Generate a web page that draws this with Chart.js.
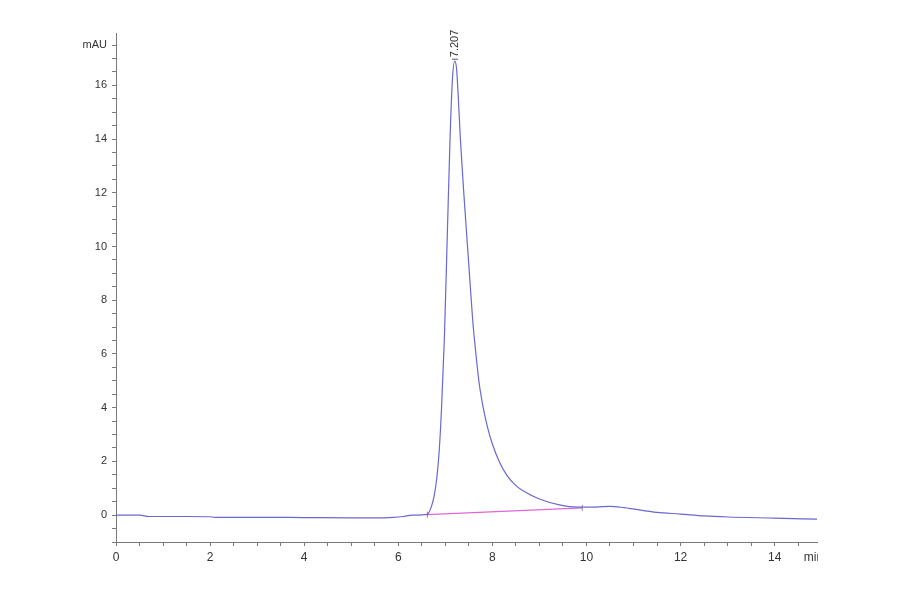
<!DOCTYPE html>
<html>
<head>
<meta charset="utf-8">
<script src="https://cdn.jsdelivr.net/npm/chart.js"></script>
<style>
  html, body { margin: 0; padding: 0; background: #fff; }
  #wrap { width: 900px; height: 594px; }
</style>
</head>
<body>
<div id="wrap"><canvas id="chrom"></canvas></div>
<script>
// retention time (min) and signal (mAU)
const times = [0, 0.5, 0.7, 1.5, 2.0, 2.1, 3, 4, 5, 5.5, 5.9, 6.1, 6.3, 6.62, 6.7, 6.76, 6.82, 6.87,
  6.92, 6.98, 7.04, 7.1, 7.15, 7.2, 7.24, 7.28, 7.32, 7.4, 7.5, 7.58, 7.65, 7.72, 7.8, 7.9, 8.0,
  8.15, 8.32, 8.5, 8.66, 9.0, 9.45, 9.8, 10.2, 10.5, 10.8, 11.5, 12, 12.5, 13, 14, 14.9];
const signal = [0, 0, -0.05, -0.05, -0.06, -0.08, -0.08, -0.09, -0.1, -0.1, -0.08, -0.05, 0.0, 0.03, 0.3, 0.7, 1.4, 2.4,
  4.0, 6.6, 10.3, 14.0, 16.2, 16.9, 16.6, 15.4, 14.0, 11.8, 9.3, 7.3, 6.0, 4.9, 4.05, 3.25, 2.65,
  1.98, 1.45, 1.1, 0.9, 0.6, 0.37, 0.3, 0.3, 0.33, 0.28, 0.1, 0.04, -0.03, -0.07, -0.11, -0.15];

// integration baseline under the peak
const baseTimes = [6.62, 9.91];
const baseValues = [0.02, 0.27];

const peakLabel = '7.207';
const peakTime = 7.207;
const peakHeight = 16.9;

const xTickLabels = [0, 2, 4, 6, 8, 10, 12, 14];
const yTickLabels = [0, 2, 4, 6, 8, 10, 12, 14, 16];

const FONT = "'Liberation Sans Narrow', 'Liberation Sans', Arial, sans-serif";
const AXIS = '#7a7a7a';

function minorTicks(scale, from, to) {
  const out = [];
  for (let v = from; v <= to + 1e-9; v += 0.5) out.push({ value: Math.round(v * 10) / 10 });
  scale.ticks = out;
}

const extras = {
  id: 'extras',
  afterDraw(chart) {
    const ctx = chart.ctx, x = chart.scales.x, y = chart.scales.y;
    ctx.save();
    ctx.fillStyle = '#333';
    ctx.font = '11px ' + FONT;
    // unit labels
    ctx.textAlign = 'right';
    ctx.textBaseline = 'middle';
    ctx.fillText('mAU', x.left - 9, y.getPixelForValue(17.5));
    ctx.beginPath();
    ctx.rect(0, 0, x.right + 1, chart.height);
    ctx.clip();
    ctx.textAlign = 'left';
    ctx.textBaseline = 'top';
    ctx.font = '12px ' + FONT;
    ctx.fillText('min', x.getPixelForValue(14.62), y.bottom + 10);
    ctx.restore();

    // peak retention time label
    const px = x.getPixelForValue(peakTime);
    const py = y.getPixelForValue(peakHeight);
    ctx.save();
    ctx.strokeStyle = '#555';
    ctx.lineWidth = 1;
    ctx.beginPath();
    ctx.moveTo(px - 3, py - 2);
    ctx.lineTo(px + 3, py - 2);
    ctx.stroke();
    ctx.translate(px, py - 4);
    ctx.rotate(-Math.PI / 2);
    ctx.fillStyle = '#333';
    ctx.font = '11px ' + FONT;
    ctx.textAlign = 'left';
    ctx.textBaseline = 'middle';
    ctx.fillText(peakLabel, 0, 0);
    ctx.restore();
  }
};

new Chart(document.getElementById('chrom'), {
  type: 'line',
  data: {
    datasets: [{
      label: 'Signal',
      data: times.map((t, i) => ({ x: t, y: signal[i] })),
      borderColor: '#6868d4',
      borderWidth: 1.2,
      pointRadius: 0,
      cubicInterpolationMode: 'monotone',
      fill: false
    }, {
      label: 'Baseline',
      data: baseTimes.map((t, i) => ({ x: t, y: baseValues[i] })),
      borderColor: '#e066d8',
      borderWidth: 1.2,
      pointStyle: 'line',
      rotation: 90,
      pointRadius: 3,
      pointBorderColor: '#888',
      pointBorderWidth: 1,
      fill: false
    }]
  },
  options: {
    responsive: true,
    maintainAspectRatio: false,
    animation: false,
    layout: { padding: { left: 0, top: 33, right: 83, bottom: 0 } },
    plugins: { legend: { display: false }, tooltip: { enabled: false } },
    scales: {
      x: {
        type: 'linear',
        min: 0,
        max: 14.9,
        afterBuildTicks: s => minorTicks(s, 0, 14.5),
        afterFit: s => { s.height = 52; },
        border: { color: AXIS, width: 1 },
        grid: { display: true, drawOnChartArea: false, drawTicks: true, tickLength: 4, color: AXIS },
        ticks: {
          autoSkip: false,
          maxRotation: 0,
          color: '#333',
          padding: 4,
          font: { family: FONT, size: 12 },
          callback: v => xTickLabels.includes(v) ? String(v) : ''
        }
      },
      y: {
        type: 'linear',
        min: -1,
        max: 17.95,
        afterBuildTicks: s => minorTicks(s, -1, 17.5),
        afterFit: s => { s.width = 116; },
        border: { color: AXIS, width: 1 },
        grid: { display: true, drawOnChartArea: false, drawTicks: true, tickLength: 4, color: AXIS },
        ticks: {
          autoSkip: false,
          color: '#333',
          padding: 5,
          font: { family: FONT, size: 11 },
          callback: v => yTickLabels.includes(v) ? String(v) : ''
        }
      }
    }
  },
  plugins: [extras]
});
</script>
</body>
</html>
